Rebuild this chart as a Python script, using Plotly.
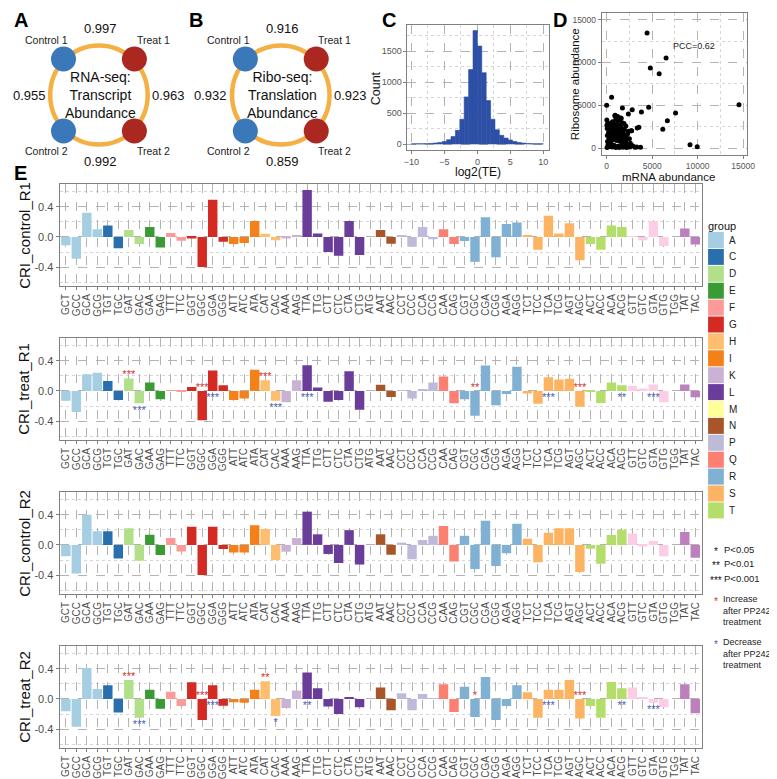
import plotly.graph_objects as go

W, H = 777, 779
FONT = "Liberation Sans"

def px(x):
    return x / W

def py(y):
    return 1 - y / H

# ---------------- Panels A / B : correlation rings ----------------
ring_samples = ["Control 1", "Treat 1", "Control 2", "Treat 2"]
rna_corr = [0.997, 0.963, 0.992, 0.955]      # top, right, bottom, left
ribo_corr = [0.916, 0.923, 0.859, 0.932]     # top, right, bottom, left
rna_title = "RNA-seq:<br>Transcript<br>Abundance"
ribo_title = "Ribo-seq:<br>Translation<br>Abundance"
sample_colors = ["#3b78b9", "#ab2820", "#3b78b9", "#ab2820"]

# ---------------- Panel C : log2(TE) histogram ----------------
te_bin_centers = [-9.67, -9.0, -8.33, -7.67, -7.0, -6.33, -5.67, -5.0, -4.33, -3.67,
                  -3.0, -2.33, -1.67, -1.0, -0.33, 0.33, 1.0, 1.67, 2.33, 3.0,
                  3.67, 4.33, 5.0, 5.67, 6.33, 7.0, 7.67, 8.33, 9.0, 9.67]
te_counts = [2, 3, 4, 6, 10, 16, 25, 40, 70, 120,
             220, 400, 760, 1200, 1830, 1580, 1150, 700, 400, 230,
             140, 95, 65, 40, 25, 15, 9, 5, 3, 2]
te_binwidth = 0.667

# ---------------- Panel D : mRNA vs ribosome abundance ----------------
mrna_abund = [4440, 6530, 4800, 5770, 14540, 7570, 4620, 3820, 6670, 6170, 9160, 9950,
              540, 0, 1730, 2810, 2380, 3540, 3360, 2740, 3100, 3720, 940, 1520, 1190, 1700,
              50, 150, 300, 450, 600, 800, 1000, 1200, 1400, 1600, 1800, 2000, 2200, 2400,
              100, 250, 400, 550, 700, 900, 1100, 1300, 1500, 1700, 1900, 2100, 2300,
              80, 200, 350, 500, 650, 800, 950, 1100, 1250, 1400, 1550, 1700, 1850, 2000, 2200,
              60, 180, 320, 450, 600, 750, 900, 1050, 1200, 1350, 1500, 1650, 1800, 1950,
              300, 700, 1150, 1500, 900, 1200, 1000, 1450, 1600, 640, 1900, 2100, 2400, 2700,
              2300, 2500, 2600, 2850, 3300, 20, 30, 120, 2450, 2550]
ribo_abund = [13440, 10520, 9360, 8700, 5090, 4120, 4780, 4230, 3220, 2210, 420, 190,
              5940, 5010, 4700, 4500, 4000, 2450, 2370, 2050, 120, 120, 3850, 3530, 3220, 2990,
              100, 400, 200, 600, 150, 350, 100, 250, 80, 300, 120, 250, 80, 200,
              800, 1100, 900, 1300, 1000, 1200, 900, 1100, 800, 1000, 700, 900, 500,
              1500, 1800, 1600, 2000, 1700, 1900, 1600, 1800, 1500, 1700, 1400, 1600, 1300, 1500, 1200,
              2300, 2600, 2400, 2700, 2300, 2600, 2200, 2500, 2200, 2400, 2100, 2300, 2000, 2200,
              2900, 2950, 2800, 2700, 3800, 3700, 3400, 3300, 3500, 3100, 2900, 2600, 2000, 2050,
              1700, 1100, 600, 300, 150, 3300, 2700, 2900, 350, 150]
d_ticks = [0, 5000, 10000, 15000]
d_ticklabels = ["0", "5000", "10000", "15000"]
pcc_label = "PCC=0.62"

# ---------------- Panel E : codon relative index ----------------
codons = ["GCT", "GCC", "GCA", "GCG", "TGT", "TGC", "GAT", "GAC", "GAA", "GAG",
          "TTT", "TTC", "GGT", "GGC", "GGA", "GGG", "ATT", "ATC", "ATA", "CAT",
          "CAC", "AAA", "AAG", "TTA", "TTG", "CTT", "CTC", "CTA", "CTG", "ATG",
          "AAT", "AAC", "CCT", "CCC", "CCA", "CCG", "CAA", "CAG", "CGT", "CGC",
          "CGA", "CGG", "AGA", "AGG", "TCT", "TCC", "TCA", "TCG", "AGT", "AGC",
          "ACT", "ACC", "ACA", "ACG", "GTT", "GTC", "GTA", "GTG", "TGG", "TAT", "TAC"]
amino = ["A", "A", "A", "A", "C", "C", "D", "D", "E", "E",
         "F", "F", "G", "G", "G", "G", "I", "I", "I", "H",
         "H", "K", "K", "L", "L", "L", "L", "L", "L", "M",
         "N", "N", "P", "P", "P", "P", "Q", "Q", "R", "R",
         "R", "R", "R", "R", "S", "S", "S", "S", "S", "S",
         "T", "T", "T", "T", "V", "V", "V", "V", "W", "Y", "Y"]
legend_groups = ["A", "C", "D", "E", "F", "G", "H", "I", "K", "L", "M", "N", "P", "Q", "R", "S", "T"]
group_colors = {"A": "#a6cee3", "C": "#2a6fad", "D": "#b2df8a", "E": "#3a9a33", "F": "#fb9a99",
                "G": "#d42a24", "H": "#fdbf6f", "I": "#f5801a", "K": "#cab2d6", "L": "#6a3d9a",
                "M": "#ffff99", "N": "#a8552a", "P": "#bebada", "Q": "#fb8072", "R": "#80b1d3",
                "S": "#fdb462", "T": "#b3de69", "V": "#fccde5", "W": "#d9d9d9", "Y": "#bc80bd"}

cri_control_r1 = [-0.11, -0.29, 0.32, 0.10, 0.15, -0.15, 0.09, -0.095, 0.13, -0.14,
                  0.05, -0.05, -0.02, -0.40, 0.49, -0.065, -0.095, -0.08, 0.21, 0.04,
                  -0.045, -0.02, 0.02, 0.62, 0.045, -0.20, -0.25, 0.21, -0.24, 0.0,
                  0.09, -0.09, 0.015, -0.13, 0.13, -0.03, 0.10, -0.095, -0.055, -0.33,
                  0.26, -0.27, 0.17, 0.19, 0.02, -0.17, 0.28, 0.045, 0.18, -0.31,
                  -0.095, -0.17, 0.15, 0.13, 0.005, -0.045, 0.21, -0.12, 0.0, 0.11, -0.10]
cri_treat_r1 = [-0.13, -0.28, 0.22, 0.24, 0.13, -0.12, 0.165, -0.165, 0.11, -0.11,
                0.005, -0.005, 0.05, -0.39, 0.27, 0.075, -0.12, -0.10, 0.28, 0.14,
                -0.13, -0.15, 0.14, 0.34, 0.045, -0.145, -0.12, 0.26, -0.25, 0.0,
                0.08, -0.08, 0.005, -0.10, 0.02, 0.11, 0.19, -0.165, -0.11, -0.33,
                0.335, -0.19, -0.04, 0.32, -0.035, -0.17, 0.18, 0.15, 0.16, -0.21,
                -0.005, -0.16, 0.11, 0.075, 0.065, 0.03, 0.085, -0.15, 0.0, 0.085, -0.085]
cri_control_r2 = [-0.15, -0.38, 0.40, 0.18, 0.18, -0.18, 0.22, -0.21, 0.135, -0.135,
                  0.09, -0.087, 0.24, -0.40, 0.24, -0.055, -0.10, -0.10, 0.26, 0.21,
                  -0.20, -0.09, 0.09, 0.44, 0.14, -0.12, -0.24, 0.195, -0.26, 0.0,
                  0.14, -0.13, 0.03, -0.19, 0.065, 0.12, 0.25, -0.22, 0.12, -0.32,
                  0.32, -0.28, -0.11, 0.28, 0.08, -0.23, 0.16, 0.22, 0.22, -0.36,
                  -0.05, -0.25, 0.13, 0.20, 0.15, -0.02, 0.05, -0.15, 0.0, 0.17, -0.17]
cri_treat_r2 = [-0.165, -0.37, 0.41, 0.13, 0.18, -0.18, 0.25, -0.25, 0.12, -0.13,
                0.095, -0.095, 0.22, -0.28, 0.18, -0.09, -0.045, -0.05, 0.12, 0.235,
                -0.225, -0.12, 0.11, 0.35, 0.14, -0.10, -0.20, 0.017, -0.11, 0.0,
                0.15, -0.15, 0.075, -0.15, 0.065, 0.005, 0.195, -0.175, 0.16, -0.24,
                0.29, -0.28, -0.095, 0.18, 0.087, -0.25, 0.12, 0.12, 0.25, -0.26,
                -0.095, -0.25, 0.225, 0.14, 0.15, 0.017, -0.05, -0.11, 0.0, 0.195, -0.19]

sig_codons_r1 = ["GAT", "GAC", "GGC", "GGA", "CAT", "CAC", "TTA", "CGC", "TCA", "AGC", "ACG", "GTA"]
sig_marks_r1 = ["***", "***", "***", "***", "***", "***", "***", "**", "***", "***", "**", "***"]
sig_dir_r1 = ["up", "down", "up", "down", "up", "down", "down", "up", "down", "up", "down", "down"]
sig_codons_r2 = ["GAT", "GAC", "GGC", "GGA", "CAT", "CAC", "TTA", "CGC", "TCA", "AGC", "ACG", "GTA"]
sig_marks_r2 = ["***", "***", "***", "***", "**", "*", "**", "*", "***", "***", "**", "***"]
sig_dir_r2 = ["up", "down", "up", "down", "up", "down", "down", "up", "down", "up", "down", "down"]

panel_names = ["CRI_control_R1", "CRI_treat_R1", "CRI_control_R2", "CRI_treat_R2"]
panel_values = [cri_control_r1, cri_treat_r1, cri_control_r2, cri_treat_r2]
panel_sig = [None, (sig_codons_r1, sig_marks_r1, sig_dir_r1), None,
             (sig_codons_r2, sig_marks_r2, sig_dir_r2)]

UP_COLOR = "#d3312a"
DOWN_COLOR = "#4b5cb5"

# ====================================================================
fig = go.Figure()
annotations = []
shapes = []


def ann(**kw):
    base = dict(showarrow=False, xanchor="center", yanchor="middle", borderpad=0)
    base.update(kw)
    annotations.append(base)


# ---------- A / B ----------
ring_centers = [(88.3, 87.0), (273.0, 87.0)]
ring_r = 49.5
node_off = 36.0
for (cx, cy), corr, title in zip(ring_centers, [rna_corr, ribo_corr], [rna_title, ribo_title]):
    shapes.append(dict(type="circle", xref="x7", yref="y7", x0=cx - ring_r, x1=cx + ring_r,
                       y0=cy - ring_r, y1=cy + ring_r, line=dict(color="#f5b043", width=4.5),
                       layer="below"))
    nx = [cx - node_off, cx + node_off, cx - node_off, cx + node_off]
    ny = [cy - node_off, cy - node_off, cy + node_off, cy + node_off]
    fig.add_trace(go.Scatter(x=nx, y=ny, mode="markers", xaxis="x7", yaxis="y7",
                             marker=dict(size=25, color=sample_colors, line=dict(width=0)),
                             showlegend=False, hoverinfo="skip"))
    for name, sx, sy in zip(ring_samples, [-53, 55, -53, 55], [-55, -55, 56, 56]):
        ann(x=cx + sx, y=cy + sy, xref="x7", yref="y7", text=name,
            font=dict(size=10.5, family=FONT, color="#222"))
    for val, (dx, dy) in zip(corr, [(1.5, -66.5), (71, 0), (1.5, 66), (-71, 0)]):
        ann(x=cx + dx, y=cy + dy, xref="x7", yref="y7", text=f"{val:.3f}",
            font=dict(size=13, family=FONT, color="#111"))
    ann(x=cx + 1.5, y=cy, xref="x7", yref="y7", text=title,
        font=dict(size=14, family=FONT, color="#111"))

# ---------- C ----------
fig.add_trace(go.Bar(x=te_bin_centers, y=te_counts, width=te_binwidth, xaxis="x", yaxis="y",
                     marker=dict(color="#2d4fa6", line=dict(width=0.6, color="#2d4fa6")),
                     showlegend=False))

# ---------- D ----------
fig.add_trace(go.Scatter(x=mrna_abund, y=ribo_abund, mode="markers", xaxis="x2", yaxis="y2",
                         marker=dict(size=5, color="black", line=dict(width=0)), showlegend=False))
ann(x=9650, y=11950, xref="x2", yref="y2", text=pcc_label, font=dict(size=9, family=FONT, color="#222"))

# ---------- E ----------
bar_colors = [group_colors[a] for a in amino]
panel_tops = [176.0, 330.0, 484.0, 638.0]
panel_h = 102.0
E_Y_RANGE = [-0.65, 0.70]
for i, (vals, sig) in enumerate(zip(panel_values, panel_sig)):
    xa = f"x{i + 3}"
    ya = f"y{i + 3}"
    fig.add_trace(go.Bar(x=codons, y=vals, xaxis=xa, yaxis=ya,
                         marker=dict(color=bar_colors, line=dict(width=0)), showlegend=False))
    if sig is not None:
        s_cod, s_mark, s_dir = sig
        sx, sy, sc = [], [], []
        for c, m, d in zip(s_cod, s_mark, s_dir):
            v = vals[codons.index(c)]
            sx.append(c)
            if d == "up":
                sy.append(max(v, 0) + 0.037)
                sc.append(UP_COLOR)
            else:
                sy.append(min(v, 0) - 0.099)
                sc.append(DOWN_COLOR)
        fig.add_trace(go.Scatter(x=sx, y=sy, text=s_mark, mode="text", xaxis=xa, yaxis=ya,
                                 textfont=dict(size=11, color=sc, family=FONT),
                                 textposition="middle center", showlegend=False))
    ann(x=px(12), y=py(panel_tops[i] + panel_h / 2), xref="paper", yref="paper",
        text=panel_names[i], textangle=-90, font=dict(size=15, family=FONT, color="#111"))

# ---------- legend (manual) ----------
ann(x=px(706), y=py(218), xref="paper", yref="paper", text="group", xanchor="left",
    font=dict(size=11, family=FONT, color="#111"))
for k, g in enumerate(legend_groups):
    cy = 232.0 + 16.9 * k
    shapes.append(dict(type="rect", xref="paper", yref="paper", x0=px(707), x1=px(723),
                       y0=py(cy - 8), y1=py(cy + 8), fillcolor=group_colors[g], line=dict(width=0)))
    ann(x=px(727), y=py(cy), xref="paper", yref="paper", text=g, xanchor="left",
        font=dict(size=10, family=FONT, color="#222"))

sig_legend_marks = ["*", "**", "***"]
sig_legend_text = ["P<0.05", "P<0.01", "P<0.001"]
for k, (m, t) in enumerate(zip(sig_legend_marks, sig_legend_text)):
    yy = 541 + 14.5 * k
    ann(x=px(715), y=py(yy + 2), xref="paper", yref="paper", text=m,
        font=dict(size=10, family=FONT, color="#111"))
    ann(x=px(722), y=py(yy), xref="paper", yref="paper", text=t, xanchor="left",
        font=dict(size=9.5, family=FONT, color="#222"))
for yy, col, word in [(591, UP_COLOR, "Increase"), (634, DOWN_COLOR, "Decrease")]:
    ann(x=px(715), y=py(yy + 2), xref="paper", yref="paper", text="*",
        font=dict(size=10, family=FONT, color=col))
    ann(x=px(721), y=py(yy - 6), xref="paper", yref="paper",
        text=f"{word}<br>after PP242<br>treatment", xanchor="left", yanchor="top",
        align="left", font=dict(size=9, family=FONT, color="#222"))

# ---------- panel letters & axis titles ----------
for letter, x, y in [("A", 9, 12), ("B", 187, 12), ("C", 383, 12), ("D", 557, 12), ("E", 9, 165)]:
    ann(x=px(x), y=py(y), xref="paper", yref="paper", text=f"<b>{letter}</b>",
        font=dict(size=20, family=FONT, color="black"))
ann(x=px(370), y=py(80), xref="paper", yref="paper", text="Count", textangle=-90,
    font=dict(size=12.5, family=FONT, color="#111"))
ann(x=px(473), y=py(164.5), xref="paper", yref="paper", text="log2(TE)",
    font=dict(size=12, family=FONT, color="#111"))
ann(x=px(572), y=py(76), xref="paper", yref="paper", text="Ribosome abundance", textangle=-90,
    font=dict(size=11.5, family=FONT, color="#111"))
ann(x=px(667), y=py(169), xref="paper", yref="paper", text="mRNA abundance",
    font=dict(size=11.5, family=FONT, color="#111"))

# ---------- axes ----------
GRID_MAJ = "#b3b3b3"
GRID_MIN = "#d6d6d6"
FRAME = "#808080"
tickfont_small = dict(size=9, family=FONT, color="#555")


def frame_axis(**kw):
    base = dict(showline=True, mirror=True, linecolor=FRAME, linewidth=1, zeroline=False,
                ticks="outside", ticklen=3, tickcolor=FRAME, showgrid=True, gridcolor=GRID_MAJ,
                griddash="dash", gridwidth=1)
    base.update(kw)
    return base


layout = dict(
    width=W, height=H, margin=dict(l=0, r=0, t=0, b=0),
    paper_bgcolor="white", plot_bgcolor="rgba(0,0,0,0)",
    showlegend=False, bargap=0.1, font=dict(family=FONT),
    xaxis=frame_axis(domain=[px(401.7), px(545.7)], range=[-10.6, 10.9], tickvals=[-10, -5, 0, 5, 10],
                     tickfont=tickfont_small, anchor="y",
                     minor=dict(tickvals=[-7.5, -2.5, 2.5, 7.5], showgrid=True, gridcolor=GRID_MIN,
                                griddash="dot", ticks="")),
    yaxis=frame_axis(domain=[py(141.7), py(17)], range=[-92, 1920], tickvals=[0, 500, 1000, 1500],
                     tickfont=tickfont_small, anchor="x",
                     minor=dict(tickvals=[250, 750, 1250, 1750], showgrid=True, gridcolor=GRID_MIN,
                                griddash="dot", ticks="")),
    xaxis2=frame_axis(domain=[px(599), px(746.7)], range=[-540, 15440], tickvals=d_ticks,
                      ticktext=d_ticklabels,
                      tickfont=dict(size=8.5, family=FONT, color="#555"), anchor="y2",
                      minor=dict(tickvals=[2500, 7500, 12500], showgrid=True, gridcolor=GRID_MIN,
                                 griddash="dot", ticks="")),
    yaxis2=frame_axis(domain=[py(146.7), py(5)], range=[-745, 15770], tickvals=d_ticks,
                      ticktext=d_ticklabels,
                      tickfont=dict(size=8.5, family=FONT, color="#555"), anchor="x2",
                      minor=dict(tickvals=[2500, 7500, 12500], showgrid=True, gridcolor=GRID_MIN,
                                 griddash="dot", ticks="")),
    xaxis7=dict(domain=[0, px(400)], range=[0, 400], visible=False, anchor="y7", fixedrange=True),
    yaxis7=dict(domain=[py(165), 1], range=[165, 0], visible=False, anchor="x7", fixedrange=True),
    annotations=annotations, shapes=shapes,
)

for i in range(4):
    top = panel_tops[i]
    layout[f"xaxis{i + 3}"] = frame_axis(
        domain=[px(48.3), px(700.4)], type="category", categoryorder="array", categoryarray=codons,
        range=[-0.6, 60.6], tickangle=-90, anchor=f"y{i + 3}", tickmode="array",
        tickvals=codons, ticktext=codons,
        tickfont=dict(size=10, family=FONT, color="#4d4d4d"))
    layout[f"yaxis{i + 3}"] = frame_axis(
        domain=[py(top + panel_h), py(top)], range=E_Y_RANGE, tickvals=[-0.4, 0.0, 0.4],
        ticktext=["-0.4", "0.0", "0.4"], anchor=f"x{i + 3}",
        tickfont=dict(size=11, family=FONT, color="#4d4d4d"),
        minor=dict(tickvals=[-0.6, -0.2, 0.2, 0.6], showgrid=True, gridcolor=GRID_MIN,
                   griddash="dot", ticks=""))

fig.update_layout(**layout)
fig.write_html("out.html")
